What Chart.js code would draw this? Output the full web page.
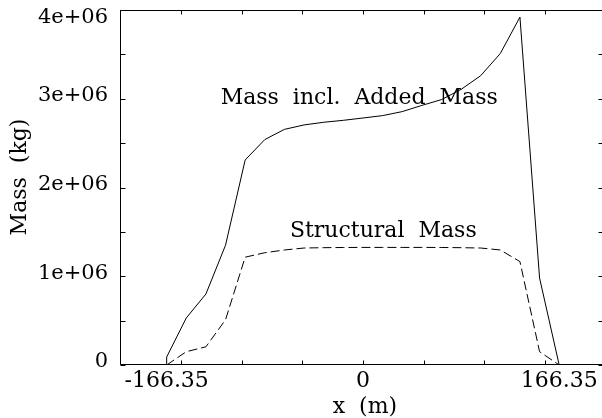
<!DOCTYPE html>
<html><head><meta charset="utf-8">
<script src="https://cdn.jsdelivr.net/npm/chart.js@4/dist/chart.umd.min.js"></script>
<style>
html,body{margin:0;padding:0;background:#fff;overflow:hidden;}
#wrap{width:602px;height:418px;overflow:hidden;position:relative;background:#fff;}
canvas{display:block;}
</style></head><body>
<div id="wrap"><canvas id="c" width="604" height="418" style="width:604px;height:418px"></canvas></div>
<script>
// ---- data ----
const xPositions = [-166.35, -149.72, -133.08, -116.45, -99.81, -83.18, -66.54, -49.91, -33.27, -16.64, 0,
                    16.64, 33.27, 49.91, 66.54, 83.18, 99.81, 116.45, 133.08, 149.72, 166.35];
const totalX = [-166.35, -166.35, -149.72, -133.08, -116.45, -99.81, -83.18, -66.54, -49.91, -33.27, -16.64, 0,
                16.64, 33.27, 49.91, 66.54, 83.18, 99.81, 116.45, 133.08, 149.72, 166.35];
const totalMass = [0, 0.09e6, 0.53e6, 0.80e6, 1.35e6, 2.31e6, 2.54e6, 2.655e6, 2.705e6, 2.735e6, 2.757e6, 2.783e6,
                   2.81e6, 2.855e6, 2.925e6, 2.99e6, 3.105e6, 3.26e6, 3.51e6, 3.92e6, 0.98e6, 0];
const structuralMass = [0, 0.15e6, 0.205e6, 0.51e6, 1.215e6, 1.265e6, 1.296e6, 1.318e6, 1.322e6, 1.324e6, 1.325e6,
                        1.325e6, 1.325e6, 1.325e6, 1.324e6, 1.322e6, 1.318e6, 1.296e6, 1.165e6, 0.15e6, 0];
const seriesLabels = ['Mass  incl.  Added  Mass', 'Structural  Mass'];
const yTickValues = [0, 1e6, 2e6, 3e6, 4e6];
const yTickLabels = ['0', '1e+06', '2e+06', '3e+06', '4e+06'];
const yMinorStep = 5e5;
const xTickValues = [-166.35, 0, 166.35];
const xTickLabels = ['-166.35', '0', '166.35'];
const xMinorTicks = [-205.8, -154.35, -102.9, -51.45, 0, 51.45, 102.9, 154.35];
const xTitle = 'x  (m)';
const yTitle = 'Mass  (kg)';

// ---- layout / style config ----
const annotations = [
  { text: seriesLabels[0], x: -120.6, y: 2.937e6 },
  { text: seriesLabels[1], x: -61.9, y: 1.439e6 }
];
const FONT = '"DejaVu Serif", "Liberation Serif", serif';

const framePlugin = {
  id: 'frame',
  afterDraw(chart) {
    const { ctx, chartArea: a, scales: { x, y } } = chart;
    ctx.save();
    ctx.strokeStyle = '#000';
    ctx.lineWidth = 1;
    const L = Math.round(a.left) + 0.5, R = Math.round(a.right) - 0.5;
    const T = Math.round(a.top) + 0.5, B = Math.round(a.bottom) - 0.5;
    ctx.beginPath();
    ctx.rect(L, T, R - L, B - T);
    for (let v = y.min; v <= y.max + 1; v += yMinorStep) {
      const p = Math.round(y.getPixelForValue(v)) + 0.5;
      ctx.moveTo(L, p); ctx.lineTo(L + 5, p);
      ctx.moveTo(R, p); ctx.lineTo(R - 5, p);
    }
    xMinorTicks.forEach(v => {
      const p = Math.round(x.getPixelForValue(v)) + 0.5;
      ctx.moveTo(p, B); ctx.lineTo(p, B - 4);
      ctx.moveTo(p, T); ctx.lineTo(p, T + 4);
    });
    ctx.stroke();

    ctx.fillStyle = '#000';
    ctx.font = '22px ' + FONT;
    ctx.textAlign = 'left';
    ctx.textBaseline = 'alphabetic';
    annotations.forEach(t => ctx.fillText(t.text, x.getPixelForValue(t.x), y.getPixelForValue(t.y)));

    ctx.textAlign = 'center';
    ctx.fillText(xTitle, x.getPixelForValue(0) + 2, a.bottom + 48);

    ctx.translate(26, (a.top + a.bottom) / 2 - 10.5);
    ctx.rotate(-Math.PI / 2);
    ctx.fillText(yTitle, 0, 0);
    ctx.restore();
  }
};

new Chart(document.getElementById('c'), {
  type: 'line',
  data: {
    datasets: [
      { label: seriesLabels[0], data: totalX.map((xv, i) => ({ x: xv, y: totalMass[i] })),
        borderColor: '#000', borderWidth: 1, pointRadius: 0, tension: 0, fill: false },
      { label: seriesLabels[1], data: xPositions.map((xv, i) => ({ x: xv, y: structuralMass[i] })),
        borderColor: '#000', borderWidth: 1, borderDash: [9, 4], pointRadius: 0, tension: 0, fill: false }
    ]
  },
  options: {
    responsive: false,
    animation: false,
    devicePixelRatio: 1,
    layout: { padding: { left: 0, right: 0.5, top: 10, bottom: 0 } },
    plugins: { legend: { display: false }, tooltip: { enabled: false } },
    scales: {
      x: {
        type: 'linear', min: -205.9, max: 203.9,
        afterBuildTicks(s) { s.ticks = xTickValues.map(v => ({ value: v })); },
        afterFit(s) { s.height = 53; s.paddingLeft = 0; s.paddingRight = 0; },
        grid: { display: false, drawTicks: false },
        border: { display: false },
        ticks: {
          color: '#000', font: { family: FONT, size: 22 }, padding: 3,
          maxRotation: 0, minRotation: 0, autoSkip: false,
          callback: (v, i) => xTickLabels[i]
        }
      },
      y: {
        type: 'linear', min: 0, max: 4e6,
        afterBuildTicks(s) { s.ticks = yTickValues.map(v => ({ value: v })); },
        afterFit(s) { s.width = 120; s.paddingTop = 0; s.paddingBottom = 0; },
        grid: { display: false, drawTicks: false },
        border: { display: false },
        ticks: {
          color: '#000', font: { family: FONT, size: 21, lineHeight: 1 }, padding: 12,
          labelOffset: -3, autoSkip: false,
          callback: (v, i) => (i === yTickLabels.length - 1 ? ['', yTickLabels[i]] : yTickLabels[i])
        }
      }
    }
  },
  plugins: [framePlugin]
});
</script>
</body></html>
